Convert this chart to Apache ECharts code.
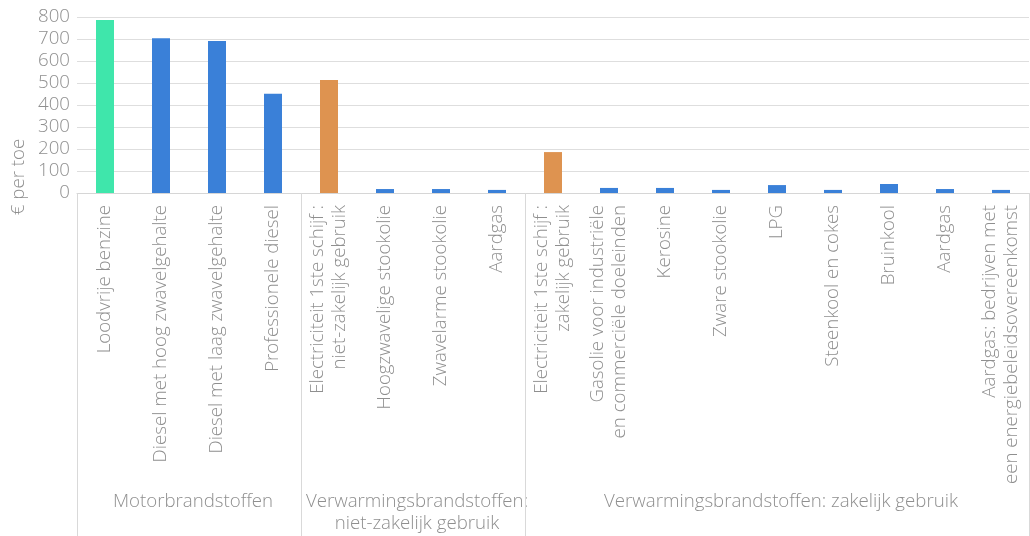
<!DOCTYPE html>
<html>
<head>
<meta charset="utf-8">
<script src="https://cdn.jsdelivr.net/npm/echarts@6/dist/echarts.min.js"></script>
<style>
  html, body { margin: 0; padding: 0; background: #fff; }
  #chart { width: 1030px; height: 536px; }
</style>
</head>
<body>
<div id="chart"></div>
<script>
// Fuel categories (x axis)
const categories = [
  'Loodvrije benzine',
  'Diesel met hoog zwavelgehalte',
  'Diesel met laag zwavelgehalte',
  'Professionele diesel',
  'Electriciteit 1ste schijf :\nniet-zakelijk gebruik',
  'Hoogzwavelige stookolie',
  'Zwavelarme stookolie',
  'Aardgas',
  'Electriciteit 1ste schijf :\nzakelijk gebruik',
  'Gasolie voor industriële\nen commerciële doeleinden',
  'Kerosine',
  'Zware stookolie',
  'LPG',
  'Steenkool en cokes',
  'Bruinkool',
  'Aardgas',
  'Aardgas: bedrijven met\neen energiebeleidsovereenkomst'
];

// Tax per toe, in euro
const values = [786, 703, 691, 451, 514, 18, 18, 14, 186, 23, 23, 14, 36, 14, 41, 18, 14];

// Category groups and how many categories each one spans
const groupNames = [
  'Motorbrandstoffen',
  'Verwarmingsbrandstoffen:\nniet-zakelijk gebruik',
  'Verwarmingsbrandstoffen: zakelijk gebruik'
];
const groupSizes = [4, 4, 9];

// Y axis ticks
const yTicks = [0, 100, 200, 300, 400, 500, 600, 700, 800];

const GREEN = '#3fe6ab';
const BLUE = '#3a80d8';
const ORANGE = '#de9350';
const TEXT = '#8f8f8f';
const FONT = '"Open Sans", "Noto Sans", sans-serif';
const FS = 18.67;

function barColor(name, i) {
  if (i === 0) return GREEN;
  if (name.indexOf('Electriciteit') === 0) return ORANGE;
  return BLUE;
}

// Category indices where a new group starts
const groupStarts = [];
let acc = 0;
groupSizes.forEach(s => { groupStarts.push(acc); acc += s; });

const chart = echarts.init(document.getElementById('chart'), null, { renderer: 'canvas' });

const option = {
  animation: false,
  backgroundColor: '#ffffff',
  grid: { left: 77, right: 1, top: 17, bottom: 343, containLabel: false },
  xAxis: {
    type: 'category',
    data: categories,
    boundaryGap: true,
    axisLine: { show: true, lineStyle: { color: '#d6d6d6', width: 1 } },
    axisTick: {
      show: true,
      alignWithLabel: false,
      interval: (idx) => groupStarts.indexOf(idx) >= 0,
      length: 343,
      lineStyle: { color: '#d9d9d9', width: 1 }
    },
    axisLabel: {
      interval: 0,
      rotate: 90,
      margin: 12,
      padding: [9, 0, 0, 0],
      color: TEXT,
      fontFamily: FONT,
      fontWeight: 300,
      fontSize: FS,
      lineHeight: 22
    },
    splitLine: { show: false }
  },
  yAxis: {
    type: 'value',
    min: yTicks[0],
    max: yTicks[yTicks.length - 1],
    interval: yTicks[1] - yTicks[0],
    axisLine: { show: false },
    axisTick: { show: false },
    axisLabel: {
      margin: 7,
      color: TEXT,
      fontFamily: FONT,
      fontWeight: 300,
      fontSize: FS
    },
    splitLine: { show: true, lineStyle: { color: '#dedede', width: 1 } }
  },
  series: [{
    type: 'bar',
    barWidth: 18,
    data: values.map((v, i) => ({
      value: v,
      itemStyle: { color: barColor(categories[i], i) }
    }))
  }]
};

chart.setOption(option);

// Group labels, centred under each group of categories
const texts = [];
let start = 0;
groupSizes.forEach((size, g) => {
  const x0 = chart.convertToPixel({ xAxisIndex: 0 }, start);
  const x1 = chart.convertToPixel({ xAxisIndex: 0 }, start + size - 1);
  texts.push({
    type: 'text',
    x: (x0 + x1) / 2 + 4,
    y: 491,
    style: {
      text: groupNames[g],
      fill: TEXT,
      font: '300 ' + FS + 'px ' + FONT,
      align: 'center',
      verticalAlign: 'top',
      lineHeight: 22
    }
  });
  start += size;
});

// Y axis name
texts.push({
  type: 'text',
  x: 19,
  y: 177,
  rotation: Math.PI / 2,
  style: {
    text: '€ per toe',
    fill: TEXT,
    font: '300 ' + FS + 'px ' + FONT,
    align: 'center',
    verticalAlign: 'middle'
  }
});

chart.setOption({ graphic: texts });
</script>
</body>
</html>
